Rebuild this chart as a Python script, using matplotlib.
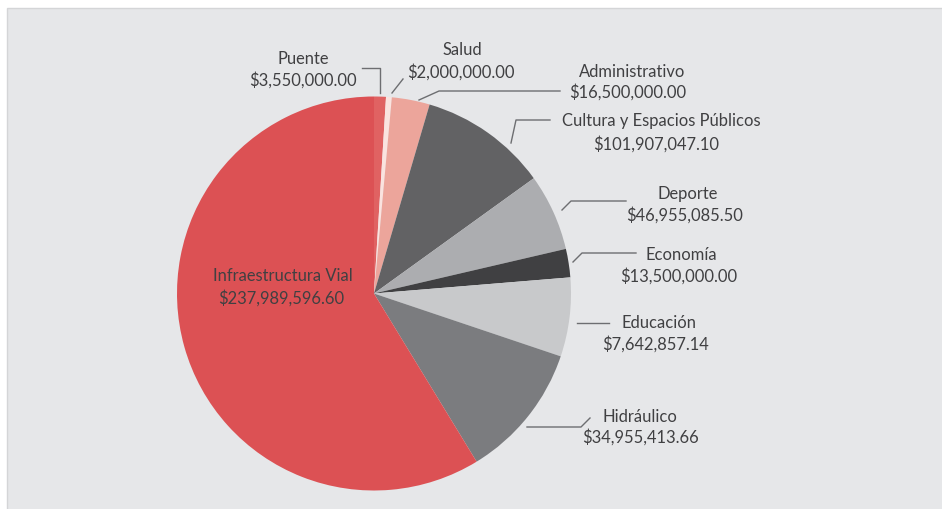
import matplotlib.pyplot as plt
from matplotlib.patches import Rectangle

plt.rcParams['font.family'] = ['Lato', 'DejaVu Sans']

# sectores en el orden del dibujo (desde arriba, sentido horario)
sectores = ['Puente', 'Salud', 'Administrativo', 'Cultura y Espacios Públicos',
            'Deporte', 'Economía', 'Educación', 'Hidráulico', 'Infraestructura Vial']
montos = ['$3,550,000.00', '$2,000,000.00', '$16,500,000.00', '$101,907,047.10',
          '$46,955,085.50', '$13,500,000.00', '$7,642,857.14', '$34,955,413.66',
          '$237,989,596.60']
# tamaño de cada rebanada (grados)
grados = [3.5, 1.7, 11.2, 37.8, 22.7, 8.4, 23.3, 40.0, 211.4]
colores = ['#e06262', '#fae3df', '#eca59b', '#626264', '#acadb0',
           '#404042', '#c8c9cb', '#7b7c7f', '#dc5154']

W, H = 942, 509
fig = plt.figure(figsize=(W / 100, H / 100), dpi=100)
ax = fig.add_axes([0, 0, 1, 1])

# fondo gris
ax.add_patch(Rectangle((7, -2), W, H - 8 + 2, facecolor='#e6e7e9',
                       edgecolor='#d4d5d7', lw=1, zorder=0))

cx, cy, r = 374, H - 293.5, 197
ax.pie(grados, colors=colores, startangle=90, counterclock=False,
       center=(cx, cy), radius=r, frame=True,
       wedgeprops=dict(linewidth=0.6, edgecolor=None))
ax.set_xlim(0, W)
ax.set_ylim(0, H)
ax.set_aspect('equal')
ax.axis('off')

# posiciones de las etiquetas (px desde arriba)
txt_pos = [(303, 59), (462, 50), (632, 72), (661, 121), (688, 194),
           (681, 255), (659, 323), (640, 417), (283, 276)]
val_pos = [(303, 80), (461, 72), (628, 92), (656, 144), (685, 215),
           (679, 276), (656, 344), (641, 437), (281, 298)]
lineas = [
    [(362, 68), (380, 68), (380, 93)],
    [(403, 79), (392, 93)],
    [(419, 100), (439, 91), (560, 91)],
    [(511, 143), (516, 120), (550, 120)],
    [(562, 210), (571, 201), (626, 201)],
    [(573, 262), (582, 253), (636, 253)],
    [(577, 323), (609, 323)],
    [(527, 427), (581, 427), (590, 418)],
    None,
]

tcol = '#404042'
for i, s in enumerate(sectores):
    x, y = txt_pos[i]
    ax.text(x, H - y, s, ha='center', va='center', fontsize=11.9, color=tcol)
    x, y = val_pos[i]
    ax.text(x, H - y, montos[i], ha='center', va='center', fontsize=11.9, color=tcol)
    if lineas[i]:
        xs = [p[0] for p in lineas[i]]
        ys = [H - p[1] for p in lineas[i]]
        ax.plot(xs, ys, color='#6d6e71', lw=1)

fig.savefig('out.png', dpi=100)
